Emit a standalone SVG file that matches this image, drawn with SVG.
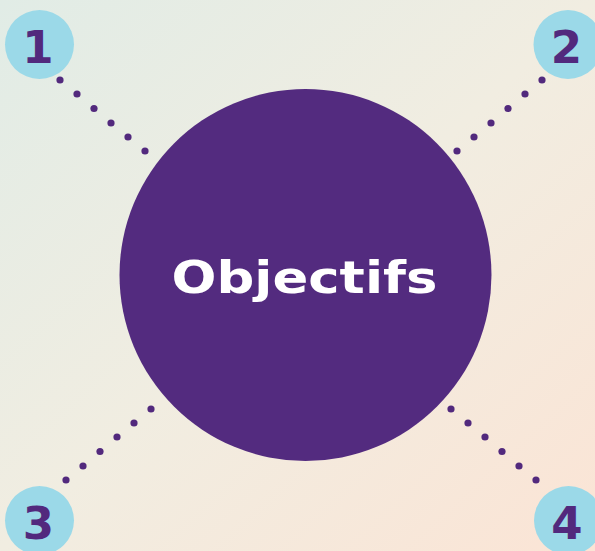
<svg xmlns="http://www.w3.org/2000/svg" width="595" height="551" viewBox="0 0 595 551">
  <defs>
    <linearGradient id="bg" x1="0" y1="0" x2="1" y2="1">
      <stop offset="0" stop-color="#e1ece6"/>
      <stop offset="0.5" stop-color="#f1ede1"/>
      <stop offset="1" stop-color="#fbe4d5"/>
    </linearGradient>
  </defs>
  <style>
    .num { fill: #9bd9e8; }
    .numtxt { fill: #52297d; font-family: "DejaVu Sans", sans-serif; font-weight: bold; font-size: 45px; text-anchor: middle; }
    .dot { fill: #52297d; }
    .main { fill: #532b7f; }
    .maintxt { fill: #ffffff; font-family: "DejaVu Sans", sans-serif; font-weight: bold; font-size: 45px; }
  </style>
  <rect x="0" y="0" width="595" height="551" fill="url(#bg)"/>
  <g id="connectors">
    <circle class="dot" cx="60" cy="80" r="3.6"/>
    <circle class="dot" cx="77" cy="94" r="3.6"/>
    <circle class="dot" cx="94" cy="108.5" r="3.6"/>
    <circle class="dot" cx="111" cy="123" r="3.6"/>
    <circle class="dot" cx="128" cy="137" r="3.6"/>
    <circle class="dot" cx="145" cy="151" r="3.6"/>

    <circle class="dot" cx="542" cy="80" r="3.6"/>
    <circle class="dot" cx="525" cy="94" r="3.6"/>
    <circle class="dot" cx="508" cy="108.5" r="3.6"/>
    <circle class="dot" cx="491" cy="123" r="3.6"/>
    <circle class="dot" cx="474" cy="137" r="3.6"/>
    <circle class="dot" cx="457" cy="151" r="3.6"/>

    <circle class="dot" cx="66" cy="480" r="3.6"/>
    <circle class="dot" cx="83" cy="466" r="3.6"/>
    <circle class="dot" cx="100" cy="451.5" r="3.6"/>
    <circle class="dot" cx="117" cy="437" r="3.6"/>
    <circle class="dot" cx="134" cy="423" r="3.6"/>
    <circle class="dot" cx="151" cy="409" r="3.6"/>

    <circle class="dot" cx="451" cy="409" r="3.6"/>
    <circle class="dot" cx="468" cy="423" r="3.6"/>
    <circle class="dot" cx="485" cy="437" r="3.6"/>
    <circle class="dot" cx="502" cy="451.5" r="3.6"/>
    <circle class="dot" cx="519" cy="466" r="3.6"/>
    <circle class="dot" cx="536" cy="480" r="3.6"/>
  </g>
  <g id="center">
    <circle class="main" cx="305.5" cy="275" r="186"/>
    <text class="maintxt" x="171.5" y="293" textLength="266" lengthAdjust="spacingAndGlyphs">Objectifs</text>
  </g>
  <g id="n1">
    <circle class="num" cx="39.5" cy="44.5" r="34.5"/>
    <text class="numtxt" x="38" y="63">1</text>
  </g>
  <g id="n2">
    <circle class="num" cx="568" cy="44.5" r="34.5"/>
    <text class="numtxt" x="566.5" y="63">2</text>
  </g>
  <g id="n3">
    <circle class="num" cx="39.5" cy="520.5" r="34.5"/>
    <text class="numtxt" x="38.5" y="539">3</text>
  </g>
  <g id="n4">
    <circle class="num" cx="568.5" cy="520.5" r="34.5"/>
    <text class="numtxt" x="567" y="539">4</text>
  </g>
</svg>
